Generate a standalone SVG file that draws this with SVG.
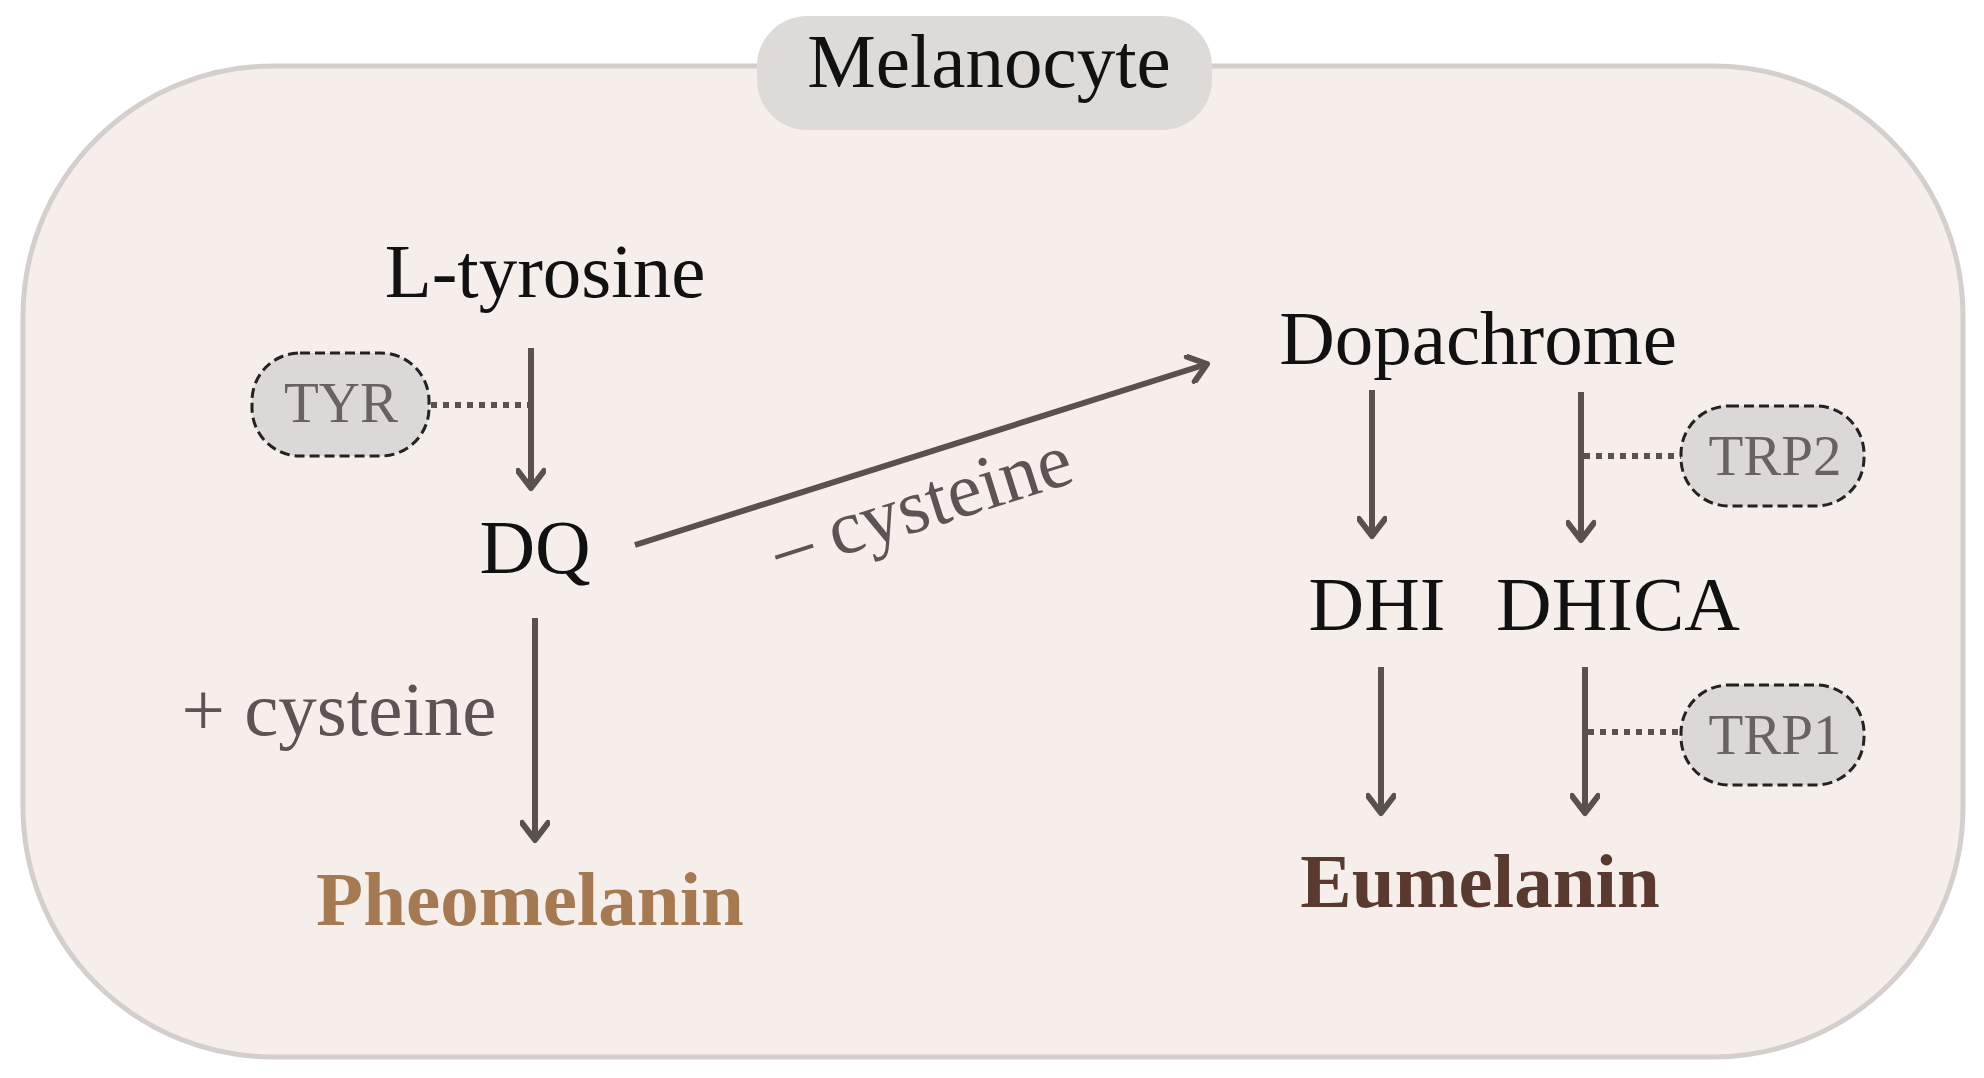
<svg xmlns="http://www.w3.org/2000/svg" width="1984" height="1078" viewBox="0 0 1984 1078">
<style>
  .lbl { font-family: "Liberation Serif", "Times New Roman", serif; font-size: 77px; fill: #111; text-anchor: middle; }
  .grey { fill: #5c5454; }
  .enz { font-family: "Liberation Serif", "Times New Roman", serif; font-size: 57px; fill: #6a6262; text-anchor: middle; }
  .pill { fill: #dcd8d7; stroke: #222; stroke-width: 3; stroke-dasharray: 10 5; }
  .arrow { stroke: #5a5050; stroke-width: 6; fill: none; marker-end: url(#arr); }
  .dot { stroke: #5a5050; stroke-width: 6; fill: none; stroke-dasharray: 6 6; }
</style>
<defs>
  <marker id="arr" viewBox="0 0 30 30" refX="26" refY="15" markerWidth="30" markerHeight="30" orient="auto" markerUnits="userSpaceOnUse">
    <path d="M9,2 L26,15 L9,28" fill="none" stroke="#5a5050" stroke-width="6" stroke-linecap="round" stroke-linejoin="round"/>
  </marker>
</defs>
<rect width="1984" height="1078" fill="#ffffff"/>
<g id="cell">
  <rect x="23" y="66" width="1940" height="991" rx="250" ry="250" fill="#f5eeeb" stroke="#d4cfcd" stroke-width="5"/>
  <rect x="757" y="16" width="455" height="114" rx="50" ry="50" fill="#dedad8"/>
  <text class="lbl" x="989" y="87">Melanocyte</text>
</g>
<g id="connectors">
  <line class="arrow" x1="531" y1="348" x2="531" y2="488"/>
  <line class="arrow" x1="535" y1="618" x2="535" y2="840"/>
  <line class="arrow" x1="635" y1="545" x2="1207" y2="364"/>
  <line class="arrow" x1="1372" y1="390" x2="1372" y2="536"/>
  <line class="arrow" x1="1581" y1="392" x2="1581" y2="540"/>
  <line class="arrow" x1="1381" y1="667" x2="1381" y2="813"/>
  <line class="arrow" x1="1585" y1="667" x2="1585" y2="813"/>
  <line class="dot" x1="431" y1="405" x2="531" y2="405"/>
  <line class="dot" x1="1584" y1="456" x2="1681" y2="456"/>
  <line class="dot" x1="1588" y1="732" x2="1681" y2="732"/>
  <text class="lbl grey" x="339" y="735">+ cysteine</text>
  <text class="lbl grey" transform="translate(929,528) rotate(-17.5)" x="0" y="0">– cysteine</text>
</g>
<g id="ltyrosine"><text class="lbl" x="545" y="297">L-tyrosine</text></g>
<g id="tyr">
  <rect class="pill" x="252" y="353" width="177" height="103" rx="48" ry="48"/>
  <text class="enz" x="341" y="422">TYR</text>
</g>
<g id="dq"><text class="lbl" x="535" y="573">DQ</text></g>
<g id="pheomelanin"><text class="lbl" x="530" y="925" style="font-weight:bold; fill:#a57a52;">Pheomelanin</text></g>
<g id="dopachrome"><text class="lbl" x="1478" y="364">Dopachrome</text></g>
<g id="trp2">
  <rect class="pill" x="1681" y="406" width="183" height="100" rx="48" ry="48"/>
  <text class="enz" x="1775" y="475">TRP2</text>
</g>
<g id="dhi"><text class="lbl" x="1377" y="630">DHI</text></g>
<g id="dhica"><text class="lbl" x="1618" y="630">DHICA</text></g>
<g id="trp1">
  <rect class="pill" x="1681" y="685" width="183" height="100" rx="48" ry="48"/>
  <text class="enz" x="1775" y="754">TRP1</text>
</g>
<g id="eumelanin"><text class="lbl" x="1480" y="907" style="font-weight:bold; fill:#5a3a2e;">Eumelanin</text></g>
</svg>
